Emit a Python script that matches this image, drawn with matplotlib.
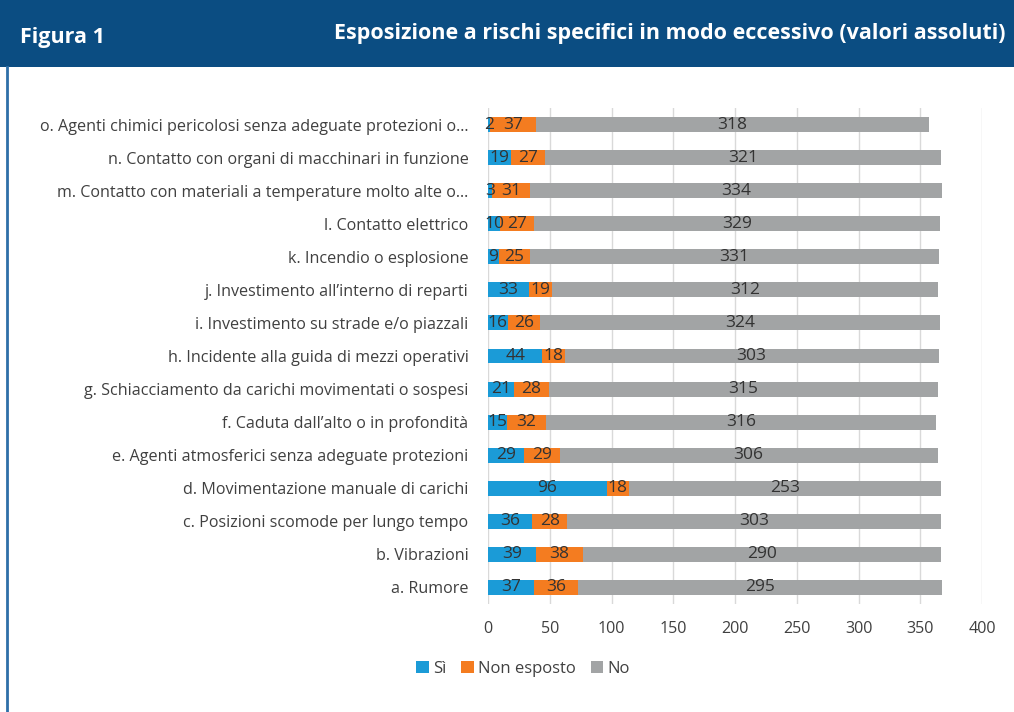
import numpy as np
import matplotlib.pyplot as plt
from matplotlib.patches import Rectangle
from matplotlib.lines import Line2D

plt.rcParams['font.family'] = ['Open Sans', 'DejaVu Sans']

# Categories (bottom to top)
categories = [
    'a. Rumore',
    'b. Vibrazioni',
    'c. Posizioni scomode per lungo tempo',
    'd. Movimentazione manuale di carichi',
    'e. Agenti atmosferici senza adeguate protezioni',
    'f. Caduta dall\u2019alto o in profondit\u00e0',
    'g. Schiacciamento da carichi movimentati o sospesi',
    'h. Incidente alla guida di mezzi operativi',
    'i. Investimento su strade e/o piazzali',
    'j. Investimento all\u2019interno di reparti',
    'k. Incendio o esplosione',
    'l. Contatto elettrico',
    'm. Contatto con materiali a temperature molto alte o\u2026',
    'n. Contatto con organi di macchinari in funzione',
    'o. Agenti chimici pericolosi senza adeguate protezioni o\u2026',
]
si = [37, 39, 36, 96, 29, 15, 21, 44, 16, 33, 9, 10, 3, 19, 2]
non_esposto = [36, 38, 28, 18, 29, 32, 28, 18, 26, 19, 25, 27, 31, 27, 37]
no = [295, 290, 303, 253, 306, 316, 315, 303, 324, 312, 331, 329, 334, 321, 318]

series = [('S\u00ec', si, '#1b9bd7'),
          ('Non esposto', non_esposto, '#f47c20'),
          ('No', no, '#a2a4a5')]

fig = plt.figure(figsize=(10.14, 7.12), dpi=100)

# Header band
fig.patches.append(Rectangle((0, 1 - 67 / 712), 1, 67 / 712, transform=fig.transFigure,
                             facecolor='#0b4d82', edgecolor='none', zorder=0))
fig.lines.append(Line2D([7 / 1014, 7 / 1014], [0, 1 - 67 / 712], transform=fig.transFigure,
                        color='#2e6fa8', lw=2))
fig.text(20 / 1014, 1 - 37 / 712, 'Figura 1', color='white', fontsize=15.5,
         fontweight='bold', va='center', ha='left')
fig.text(1006 / 1014, 1 - 34 / 712, 'Esposizione a rischi specifici in modo eccessivo (valori assoluti)',
         color='white', fontsize=15.45, fontweight='bold', va='center', ha='right')

ax = fig.add_axes([488 / 1014, 1 - 604 / 712, 494 / 1014, 496 / 712])
y = np.arange(len(categories))
left = np.zeros(len(categories))
for name, vals, col in series:
    vals = np.array(vals)
    ax.barh(y, vals, left=left, height=0.45, color=col, label=name, zorder=3)
    for yi, l, v in zip(y, left, vals):
        ax.text(l + v / 2, yi, str(v), ha='center', va='center', fontsize=12.5,
                color='#333333', zorder=4)
    left += vals

ax.set_xlim(0, 400)
ax.set_ylim(-0.5, len(categories) - 0.5)
ax.set_xticks(range(0, 401, 50))
ax.set_yticks(y)
ax.set_yticklabels(categories)
ax.tick_params(axis='both', length=0, labelsize=11.6, labelcolor='#404040')
ax.tick_params(axis='y', pad=14)
ax.tick_params(axis='x', pad=12)
ax.grid(axis='x', color='#d9d9d9', lw=1, zorder=0)
for s in ax.spines.values():
    s.set_visible(False)

handles, labels = ax.get_legend_handles_labels()
fig.legend(handles, labels, loc='center', bbox_to_anchor=(523 / 1014, 1 - 669 / 712),
           ncol=3, frameon=False, fontsize=12, handlelength=0.75, handleheight=0.75,
           handletextpad=0.25, columnspacing=0.9, labelcolor='#404040')

fig.savefig('out.png', dpi=100)
